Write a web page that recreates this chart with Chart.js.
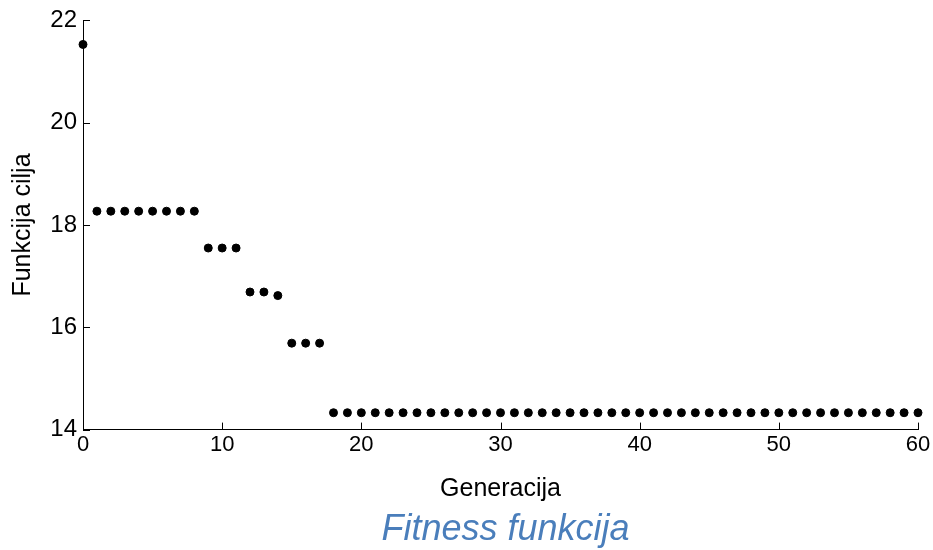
<!DOCTYPE html>
<html>
<head>
<meta charset="utf-8">
<title>Fitness funkcija</title>
<script src="https://cdn.jsdelivr.net/npm/chart.js"></script>
<style>
    body, html { margin: 0; background: #fff; }
    #wrap { width: 933px; height: 550px; position: relative; }
</style>
</head>
<body>
<div id="wrap"><canvas id="myChart"></canvas></div>
<script>
// generation number and best objective value per generation
const generations = [];
for (let g = 0; g <= 60; g++) generations.push(g);
const fitness = [
    21.53,
    18.27, 18.27, 18.27, 18.27, 18.27, 18.27, 18.27, 18.27,
    17.55, 17.55, 17.55,
    16.69, 16.69, 16.62,
    15.69, 15.69, 15.69,
    14.33, 14.33, 14.33, 14.33, 14.33, 14.33, 14.33, 14.33, 14.33, 14.33,
    14.33, 14.33, 14.33, 14.33, 14.33, 14.33, 14.33, 14.33, 14.33, 14.33,
    14.33, 14.33, 14.33, 14.33, 14.33, 14.33, 14.33, 14.33, 14.33, 14.33,
    14.33, 14.33, 14.33, 14.33, 14.33, 14.33, 14.33, 14.33, 14.33, 14.33,
    14.33, 14.33, 14.33
];
const xTicks = [0, 10, 20, 30, 40, 50, 60];
const yTicks = [14, 16, 18, 20, 22];
const chartTitle = "Fitness funkcija";

const points = generations.map((g, i) => ({ x: g, y: fitness[i] }));

// ticks drawn inward, plus the blue caption under the plot
const extras = {
    id: "extras",
    afterDraw(chart) {
        const ctx = chart.ctx;
        const xs = chart.scales.x, ys = chart.scales.y;
        const len = 7;
        ctx.save();
        ctx.strokeStyle = "#000";
        ctx.lineWidth = 1;
        ctx.beginPath();
        xTicks.forEach(v => {
            const px = Math.round(xs.getPixelForValue(v)) + 0.5;
            ctx.moveTo(px, ys.bottom);
            ctx.lineTo(px, ys.bottom - len);
        });
        yTicks.forEach(v => {
            const py = Math.round(ys.getPixelForValue(v)) + 0.5;
            ctx.moveTo(xs.left, py);
            ctx.lineTo(xs.left + len, py);
        });
        ctx.stroke();

        ctx.fillStyle = "#4a7ebb";
        ctx.font = "italic 36px 'Liberation Sans', Arial";
        ctx.textAlign = "center";
        ctx.textBaseline = "middle";
        ctx.fillText(chartTitle, (xs.left + xs.right) / 2 + 5, 530);
        ctx.restore();
    }
};

const ctx = document.getElementById("myChart").getContext("2d");
const myChart = new Chart(ctx, {
    type: "scatter",
    data: {
        datasets: [{
            label: "Funkcija cilja",
            data: points,
            backgroundColor: "#000",
            borderColor: "#000",
            pointRadius: 4,
            pointHoverRadius: 4,
            showLine: false,
            clip: false
        }]
    },
    options: {
        responsive: true,
        maintainAspectRatio: false,
        animation: false,
        layout: { padding: { left: 8, right: 15, top: 19, bottom: 46 } },
        plugins: {
            legend: { display: false },
            tooltip: { enabled: false },
            title: { display: false }
        },
        scales: {
            x: {
                type: "linear",
                min: 0,
                max: 60,
                afterBuildTicks: s => { s.ticks = xTicks.map(v => ({ value: v })); },
                ticks: { color: "#000", font: { family: "Liberation Sans, Arial", size: 22 }, padding: 2, maxRotation: 0 },
                grid: { display: true, drawOnChartArea: false, drawTicks: false, color: "#000" },
                border: { display: true, color: "#000" },
                title: {
                    display: true,
                    text: "Generacija",
                    color: "#000",
                    font: { family: "Liberation Sans, Arial", size: 25 },
                    padding: { top: 14, bottom: 0 }
                }
            },
            y: {
                min: 14,
                max: 22,
                afterBuildTicks: s => { s.ticks = yTicks.map(v => ({ value: v })); },
                afterFit: s => { s.width = 75; },
                ticks: { color: "#000", font: { family: "Liberation Sans, Arial", size: 24 }, padding: 6 },
                grid: { display: true, drawOnChartArea: false, drawTicks: false, color: "#000" },
                border: { display: true, color: "#000" },
                title: {
                    display: true,
                    text: "Funkcija cilja",
                    color: "#000",
                    font: { family: "Liberation Sans, Arial", size: 25 },
                    padding: { top: 0, bottom: 0 }
                }
            }
        }
    },
    plugins: [extras]
});
</script>
</body>
</html>
